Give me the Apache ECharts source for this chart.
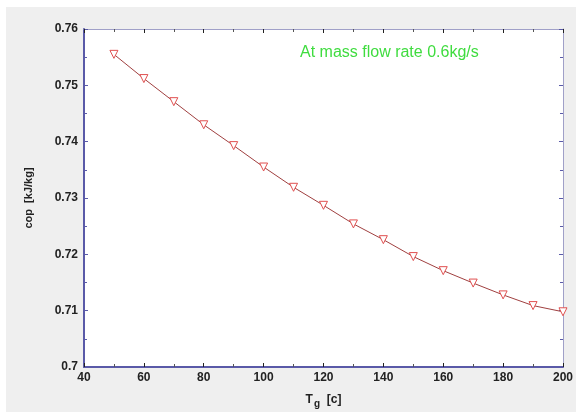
<!DOCTYPE html>
<html><head><meta charset="utf-8">
<script src="https://cdn.jsdelivr.net/npm/echarts@6/dist/echarts.min.js"></script>
<style>html,body{margin:0;padding:0;background:#fff}#c{width:576px;height:414px}</style>
</head><body><div id="c"></div>
<script>
const tempG = [50, 60, 70, 80, 90, 100, 110, 120, 130, 140, 150, 160, 170, 180, 190, 200];
const cop = [0.7555, 0.7512, 0.7471, 0.7430, 0.7393, 0.7355, 0.7319, 0.7287, 0.7254, 0.7226, 0.7196, 0.7171, 0.7149, 0.7128, 0.7109, 0.7098];
const xTicks = [40, 60, 80, 100, 120, 140, 160, 180, 200];
const yTicks = [0.70, 0.71, 0.72, 0.73, 0.74, 0.75, 0.76];
const annotation = 'At mass flow rate 0.6kg/s';

const chart = echarts.init(document.getElementById('c'), null, {renderer: 'canvas'});
const lab = {color: '#222', fontWeight: 'bold', fontSize: 12, fontFamily: 'Arial, Liberation Sans'};
const tickDark = {show: true, inside: true, length: 4, lineStyle: {color: '#222', width: 1}};
const minorDark = {show: true, splitNumber: 2, length: 3, lineStyle: {color: '#555', width: 1}};
chart.setOption({
  backgroundColor: '#ffffff',
  animation: false,
  graphic: [
    {type: 'rect', z: -10, shape: {x: 6, y: 7, width: 570, height: 405}, style: {fill: '#efefef'}, silent: true},
    {type: 'text', left: 300, top: 45, z: 100, style: {text: annotation, fill: '#3fdc3f', font: '16px Arial, "Liberation Sans"'}}
  ],
  grid: {left: 84, right: 10, top: 29, bottom: 38, show: true, backgroundColor: '#ffffff', borderWidth: 0},
  xAxis: [{
    type: 'value', min: xTicks[0], max: xTicks[xTicks.length - 1], interval: 20,
    axisLine: {show: true, lineStyle: {color: '#5a5aa8', width: 2}},
    axisTick: tickDark, minorTick: minorDark,
    axisLabel: Object.assign({margin: 5}, lab),
    splitLine: {show: false},
    name: '{t|T}{s|g}{t|  [c]}', nameLocation: 'middle', nameGap: 24,
    nameTextStyle: {rich: {t: {fontSize: 12, fontWeight: 'bold', color: '#222', fontFamily: 'Arial'}, s: {fontSize: 10, fontWeight: 'bold', color: '#222', fontFamily: 'Arial', padding: [8, 0, 0, 1]}}}
  }, {
    type: 'value', position: 'top', min: xTicks[0], max: xTicks[xTicks.length - 1], interval: 20,
    axisLine: {show: true, lineStyle: {color: '#a0a0c8', width: 1}},
    axisTick: tickDark, minorTick: minorDark, axisLabel: {show: false}, splitLine: {show: false}
  }],
  yAxis: [{
    type: 'value', min: yTicks[0], max: yTicks[yTicks.length - 1], interval: 0.01,
    axisLine: {show: true, lineStyle: {color: '#5a5aa8', width: 2}},
    axisTick: {show: true, inside: true, length: 4, lineStyle: {color: '#5a5aa8'}},
    minorTick: {show: true, splitNumber: 2, length: 3, lineStyle: {color: '#5a5aa8'}},
    axisLabel: Object.assign({margin: 6, formatter: v => String(+v.toFixed(2))}, lab),
    splitLine: {show: false},
    name: 'cop  [kJ/kg]', nameLocation: 'middle', nameGap: 50,
    nameTextStyle: {fontSize: 11, fontWeight: 'bold', color: '#222', fontFamily: 'Arial'}
  }, {
    type: 'value', position: 'right', min: yTicks[0], max: yTicks[yTicks.length - 1], interval: 0.01,
    axisLine: {show: true, lineStyle: {color: '#a0a0c8', width: 1}},
    axisTick: {show: true, inside: true, length: 4, lineStyle: {color: '#5a5aa8'}},
    minorTick: {show: true, splitNumber: 2, length: 3, lineStyle: {color: '#5a5aa8'}},
    axisLabel: {show: false}, splitLine: {show: false}
  }],
  series: [{
    type: 'line', data: tempG.map((t, i) => [t, cop[i]]),
    lineStyle: {color: '#a04040', width: 1},
    symbol: 'triangle', symbolRotate: 180, symbolSize: 8,
    itemStyle: {color: '#ffffff', borderColor: '#e05050', borderWidth: 1},
    clip: false
  }]
});
</script></body></html>
